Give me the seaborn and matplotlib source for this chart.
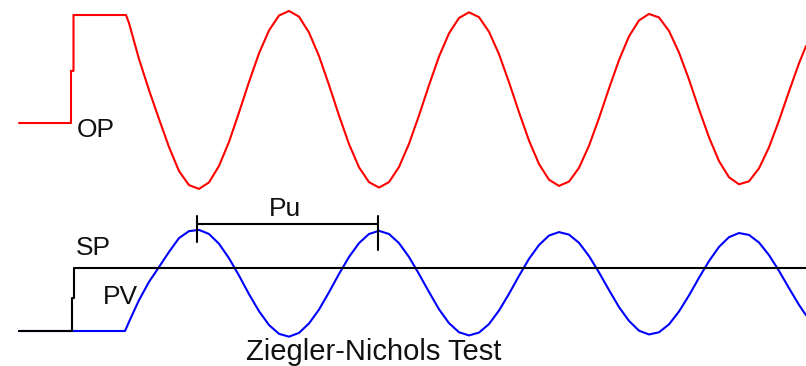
import matplotlib
matplotlib.use("Agg")
import matplotlib.pyplot as plt
import seaborn as sns
import pandas as pd

# ---------------- data (time in s, signals in %) ----------------
osc_time = [11, 12, 13, 14, 15, 16, 17, 18, 19, 20, 21, 22, 23, 24, 25, 26, 27, 28,
            29, 30, 31, 32, 33, 34, 35, 36, 37, 38, 39, 40, 41, 42, 43, 44, 45, 46,
            47, 48, 49, 50, 51, 52, 53, 54, 55, 56, 57, 58, 59, 60, 61, 62, 63, 64,
            65, 66, 67, 68, 69, 70, 71, 72, 73, 74, 75, 76, 77, 78, 78.7]

# controller output (OP): step test then oscillation
op_step_time = [0, 5.2, 5.2, 5.45, 5.45, 10.7]
op_step = [40, 40, 59.3, 59.3, 80, 80]
op_osc = [77.0, 63.7, 52.2, 41.5, 31.1, 22.2, 17.0,
          15.6, 18.0, 24.1, 33.0, 43.9, 55.2, 65.8, 74.3, 79.8, 81.5, 79.4,
          73.5, 64.8, 54.1, 42.8, 32.2, 23.6, 18.1, 16.1, 18.1, 23.7, 32.3, 42.8,
          54.0, 64.6, 73.2, 78.9, 81.0, 79.2, 73.8, 65.5, 55.1, 44.0, 33.5, 24.8,
          19.0, 16.7, 18.3, 23.4, 31.6, 41.8, 52.8, 63.3, 72.1, 78.0, 80.4, 79.1,
          74.1, 66.1, 56.1, 45.1, 34.7, 25.9, 19.9, 17.3, 18.4, 23.2, 31.0, 40.9,
          51.7, 62.1, 68.5]

# process variable (PV)
pv_flat_time = [0, 10.6]
pv_flat = [40, 40]
pv_osc = [42.9, 49.8, 55.6, 60.3, 65.1, 69.5, 71.7,
          72.1, 70.8, 67.7, 63.1, 57.6, 51.7, 46.3, 41.9, 39.1, 38.2, 39.4,
          42.4, 46.8, 52.3, 58.1, 63.5, 67.9, 70.8, 71.8, 70.8, 67.9, 63.5, 58.1,
          52.4, 46.9, 42.5, 39.6, 38.6, 39.5, 42.2, 46.5, 51.8, 57.5, 62.9, 67.3,
          70.3, 71.4, 70.6, 68.0, 63.8, 58.6, 53.0, 47.6, 43.2, 40.1, 38.9, 39.6,
          42.1, 46.2, 51.3, 56.9, 62.2, 66.7, 69.8, 71.1, 70.5, 68.1, 64.1, 59.1,
          53.6, 48.3, 45.0]

# set point (SP)
sp_time = [0, 5.3, 5.3, 5.5, 5.5, 78.7]
sp = [40, 40, 50.5, 50.5, 60, 60]

# ultimate period marker (Pu) between two PV peaks
pu_start, pu_end = 17.8, 35.9
pu_level = 74.0
pu_tick_top = 76.5
pu_tick_bottom = [68.3, 65.7]

labels = ["OP", "SP", "PV", "Pu"]
title = "Ziegler-Nichols Test"

# ---------------- plot ----------------
sns.set_theme(style="white")
plt.rcParams["font.family"] = ["Liberation Sans", "DejaVu Sans"]

W, H = 806, 366
fig = plt.figure(figsize=(W / 100, H / 100), dpi=100)
fig.patch.set_facecolor("white")

ax_op = fig.add_axes([0, 0, 1, 1])
ax_pv = fig.add_axes([0, 0, 1, 1])
for ax in (ax_op, ax_pv):
    ax.set_axis_off()
    ax.set_facecolor("none")

df_op = pd.DataFrame({"t": op_step_time + osc_time, "v": op_step + op_osc})
df_pv = pd.DataFrame({"t": pv_flat_time + osc_time, "v": pv_flat + pv_osc})
df_sp = pd.DataFrame({"t": sp_time, "v": sp})

lw = 1.5
sns.lineplot(data=df_op, x="t", y="v", ax=ax_op, color="#ff0000", lw=lw,
             estimator=None, sort=False)
sns.lineplot(data=df_pv, x="t", y="v", ax=ax_pv, color="#0000ff", lw=lw,
             estimator=None, sort=False, zorder=2)
sns.lineplot(data=df_sp, x="t", y="v", ax=ax_pv, color="black", lw=lw,
             estimator=None, sort=False, zorder=3)

# Pu bracket
df_pu = pd.DataFrame({"t": [pu_start, pu_end], "v": [pu_level, pu_level]})
sns.lineplot(data=df_pu, x="t", y="v", ax=ax_pv, color="black", lw=lw,
             estimator=None, sort=False, zorder=3)
for tx, bot in zip([pu_start, pu_end], pu_tick_bottom):
    d = pd.DataFrame({"t": [tx, tx], "v": [pu_tick_top, bot]})
    sns.lineplot(data=d, x="t", y="v", ax=ax_pv, color="black", lw=lw,
                 estimator=None, sort=False, zorder=3)

for ax in (ax_op, ax_pv):
    ax.set_xlim(-1.9, 78.7)
    ax.set_axis_off()
ax_op.set_ylim(-50, 85.56)
ax_pv.set_ylim(28.89, 145.08)

# text labels (pixel positions -> figure fraction)
def ftext(px, py, s, size):
    fig.text(px / W, 1 - py / H, s, fontsize=size, color="#111111",
             ha="left", va="baseline")

ftext(77, 137, labels[0], 19)
ftext(76, 255, labels[1], 19)
ftext(103, 304, labels[2], 19)
ftext(269, 216, labels[3], 19)
ftext(246, 360, title, 21)

fig.savefig("out.png", dpi=100, facecolor="white")
